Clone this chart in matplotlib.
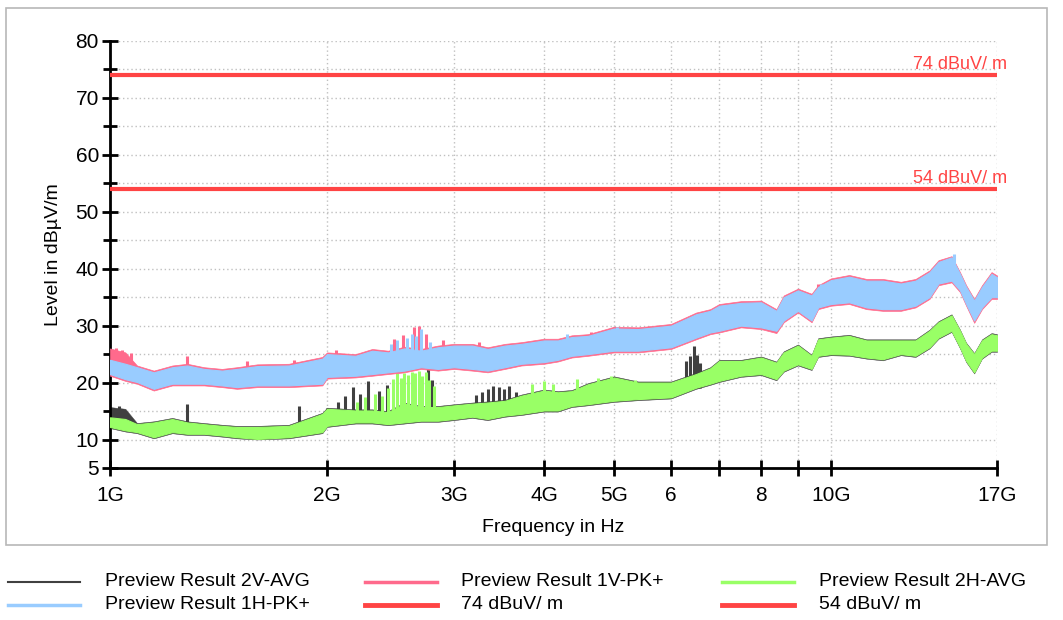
import numpy as np
import matplotlib.pyplot as plt
from matplotlib.patches import Rectangle
from matplotlib.lines import Line2D

plt.rcParams['font.family'] = ['Liberation Sans', 'DejaVu Sans']

freq = [1.0, 1.05, 1.09, 1.15, 1.22, 1.28, 1.35, 1.43, 1.5, 1.6, 1.77, 1.97,
        2.0, 2.19, 2.31, 2.43, 2.56, 2.7, 2.85, 3.0, 3.18, 3.34, 3.53, 3.72,
        4.0, 4.18, 4.37, 4.6, 5.0, 5.4, 6.0, 6.5, 6.8, 7.0, 7.5, 8.0, 8.4, 8.6,
        9.0, 9.4, 9.6, 10.0, 10.6, 11.2, 11.8, 12.5, 13.1, 13.7, 14.1, 14.7,
        15.1, 15.4, 15.8, 16.2, 16.7, 17.0]

# Preview Result 1H-PK+ (blue)
h_pk_lo = [21.5, 20.6, 20.1, 18.9, 19.8, 19.8, 19.8, 19.5, 19.2, 19.5, 19.5, 19.8,
           21.0, 21.2, 21.5, 21.8, 22.1, 22.7, 22.4, 22.7, 22.4, 22.1, 22.7, 23.3,
           23.6, 24.0, 24.7, 25.0, 25.6, 25.6, 26.2, 27.9, 28.8, 29.1, 30.0, 29.7, 29.1, 30.9,
           32.6, 30.9, 33.2, 33.8, 34.1, 33.2, 32.9, 32.9, 33.5, 35.0, 37.4, 37.9,
           36.2, 33.8, 30.9, 33.2, 35.0, 35.0]
h_pk_hi = [24.0, 23.3, 22.7, 21.8, 22.7, 23.0, 22.4, 22.1, 22.4, 22.9, 23.0, 24.2,
           25.0, 24.7, 25.6, 25.3, 26.0, 25.6, 26.2, 26.5, 26.5, 25.9, 26.5, 26.8,
           27.4, 27.4, 28.0, 28.2, 29.5, 29.4, 30.0, 32.0, 32.6, 33.5, 34.0, 34.1, 32.6, 35.0,
           36.2, 35.3, 36.8, 38.0, 38.6, 37.9, 37.9, 37.4, 37.9, 39.4, 41.2, 42.0,
           39.1, 36.8, 34.4, 36.8, 39.1, 38.5]

# Preview Result 1V-PK+ (pink)
v_pk_lo = [21.2, 20.3, 19.8, 18.6, 19.5, 19.5, 19.5, 19.2, 18.9, 19.2, 19.2, 19.5,
           20.7, 20.9, 21.2, 21.5, 21.8, 22.4, 22.1, 22.4, 22.1, 21.8, 22.4, 23.0,
           23.3, 23.7, 24.4, 24.7, 25.3, 25.3, 25.9, 27.6, 28.5, 28.8, 29.7, 29.4, 28.7, 30.6,
           32.3, 30.6, 32.9, 33.5, 33.8, 32.9, 32.6, 32.6, 33.2, 34.7, 37.1, 37.6,
           35.9, 33.5, 30.5, 32.9, 34.7, 34.7]
v_pk_hi = [26.0, 25.3, 23.0, 22.1, 23.0, 23.3, 22.7, 22.4, 22.7, 23.2, 23.3, 24.5,
           25.3, 25.0, 25.9, 25.6, 26.3, 25.9, 26.5, 26.8, 26.8, 26.2, 26.8, 27.1,
           27.7, 27.7, 28.3, 28.5, 29.8, 29.7, 30.3, 32.3, 32.9, 33.8, 34.3, 34.4, 32.9, 35.3,
           36.5, 35.6, 37.1, 38.3, 38.9, 38.2, 38.2, 37.7, 38.2, 39.7, 41.5, 42.2,
           39.4, 37.1, 34.7, 37.1, 39.4, 38.8]

# Preview Result 2H-AVG (green)
h_avg_lo = [12.2, 11.6, 11.3, 10.4, 11.3, 11.0, 11.0, 10.7, 10.4, 10.1, 10.4, 11.3,
            12.4, 13.0, 13.0, 12.7, 13.0, 13.3, 13.3, 13.6, 14.0, 13.6, 14.2, 14.5,
            15.1, 15.1, 15.9, 16.2, 16.8, 17.1, 17.4, 19.1, 19.8, 20.3, 21.2, 21.5, 20.6, 22.1,
            23.2, 22.4, 24.7, 25.0, 24.9, 24.4, 24.1, 25.0, 24.7, 26.2, 27.9, 29.1,
            26.2, 23.8, 21.8, 24.4, 25.6, 25.6]
h_avg_hi = [13.9, 13.6, 12.7, 13.0, 13.6, 13.0, 12.7, 12.4, 12.2, 12.2, 12.4, 14.5,
            15.4, 15.1, 15.1, 14.8, 16.3, 15.7, 15.7, 16.0, 16.3, 16.5, 16.8, 17.7,
            18.6, 18.3, 18.5, 19.7, 20.9, 20.0, 20.0, 21.5, 22.5, 23.8, 23.8, 24.4, 23.5, 25.3,
            26.5, 24.7, 27.6, 27.9, 28.2, 27.4, 27.4, 27.4, 27.4, 29.1, 30.6, 31.8,
            29.1, 26.8, 25.0, 27.4, 28.5, 28.3]

# Preview Result 2V-AVG (dark grey)
v_avg_lo = [12.0, 11.4, 11.1, 10.2, 11.1, 10.8, 10.8, 10.5, 10.2, 10.0, 10.2, 11.1,
            12.2, 12.8, 12.8, 12.5, 12.8, 13.1, 13.1, 13.4, 13.8, 13.4, 14.0, 14.3,
            14.9, 14.9, 15.7, 16.0, 16.6, 16.9, 17.2, 18.9, 19.6, 20.1, 21.0, 21.3, 20.4, 21.9,
            23.0, 22.2, 24.5, 24.8, 24.7, 24.2, 23.9, 24.8, 24.5, 26.0, 27.7, 28.9,
            26.0, 23.6, 21.6, 24.2, 25.4, 25.4]
v_avg_hi = [15.7, 15.4, 12.9, 13.2, 13.8, 13.2, 12.9, 12.6, 12.4, 12.4, 12.6, 14.7,
            15.6, 15.3, 15.3, 15.0, 16.5, 15.9, 15.9, 16.2, 16.5, 16.7, 17.0, 17.9,
            18.8, 18.5, 18.7, 19.9, 21.1, 20.2, 20.2, 21.7, 22.7, 24.0, 24.0, 24.6, 23.7, 25.5,
            26.7, 24.9, 27.8, 28.1, 28.4, 27.6, 27.6, 27.6, 27.6, 29.3, 30.8, 32.0,
            29.3, 27.0, 25.2, 27.6, 28.7, 28.5]

# narrow spikes sticking out of the bands (freq GHz, base dB, top dB)
pink_spk_f = [1.02, 1.04, 1.07, 1.28, 1.55, 1.8, 2.06, 2.48, 2.55, 2.64, 2.68, 2.74, 2.9, 3.25, 4.65, 5.0, 7.6, 9.6, 14.5]
pink_spk_b = [23, 23, 22, 21, 21, 21, 23, 23, 23, 23, 23, 23, 24, 24, 26, 27, 32, 35, 39]
pink_spk_t = [26.0, 25.8, 25.2, 24.7, 23.8, 24.0, 25.8, 27.6, 28.4, 29.8, 30.0, 28.6, 27.4, 27.2, 28.8, 29.8, 34.2, 37.4, 41.4]
blue_spk_f = [2.45, 2.5, 2.58, 2.62, 2.66, 2.7, 2.78, 4.3, 5.05, 9.7, 14.8]
blue_spk_b = [23, 23, 23, 23, 23, 23, 23, 26, 27, 35, 39]
blue_spk_t = [26.8, 27.4, 27.8, 28.6, 28.2, 29.4, 27.2, 28.6, 29.8, 37.4, 42.6]
green_spk_f = [2.2, 2.26, 2.33, 2.38, 2.43, 2.47, 2.5, 2.53, 2.56, 2.59, 2.62, 2.65, 2.68, 2.71, 2.74, 2.77, 2.81,
               3.85, 4.0, 4.12, 4.45, 4.75, 4.95, 5.35]
green_spk_b = [14, 14, 14, 14, 14, 14, 14, 14, 14, 14, 14, 14, 14, 14, 14, 14, 14,
               17, 17, 17, 18, 18, 19, 19]
green_spk_t = [16.6, 17.4, 18.0, 17.6, 19.0, 20.6, 21.6, 20.8, 21.6, 21.4, 21.8, 21.6, 22.0, 21.2, 21.8, 20.4, 19.4,
               19.8, 20.2, 19.8, 20.6, 20.8, 21.2, 20.4]
dark_spk_f = [1.03, 1.28, 1.83, 2.0, 2.07, 2.12, 2.17, 2.22, 2.28, 2.36, 2.42, 2.76, 2.8,
              3.22, 3.28, 3.34, 3.4, 3.46, 3.52, 3.58, 3.66, 6.3, 6.38, 6.45, 6.52, 6.58]
dark_spk_b = [13, 12, 12, 14, 14, 14, 14, 14, 14, 14, 14, 15, 15,
              15, 15, 15, 15, 15, 15, 15, 15, 19, 19, 19, 19, 19]
dark_spk_t = [15.8, 16.2, 15.8, 15.6, 16.6, 17.6, 19.2, 18.0, 20.2, 18.6, 19.6, 22.4, 20.4,
              17.8, 18.4, 18.8, 19.4, 19.2, 18.8, 19.4, 18.4, 23.8, 24.6, 26.4, 24.8, 23.4]

limits = [74, 54]
limit_labels = ['74 dBuV/ m', '54 dBuV/ m']

c_dark = '#404040'
c_pink = '#ff6a8c'
c_green = '#99ff66'
c_blue = '#99ccff'
c_red = '#ff4444'

fig = plt.figure(figsize=(10.63, 6.2), dpi=100)
fig.patches.append(Rectangle((0.006, 0.121), 0.979, 0.866, transform=fig.transFigure,
                             fill=False, edgecolor='#b8b8b8', linewidth=1.2))
ax = fig.add_axes([0.1035, 0.2452, 0.8345, 0.6887])

# bands
ax.fill_between(freq, v_avg_lo, v_avg_hi, color=c_dark, linewidth=0.3, zorder=2)
ax.vlines(dark_spk_f, dark_spk_b, dark_spk_t, color=c_dark, linewidth=2.2, zorder=2)
ax.fill_between(freq, h_avg_lo, h_avg_hi, color=c_green, linewidth=0.8, zorder=3)
ax.vlines(green_spk_f, green_spk_b, green_spk_t, color=c_green, linewidth=2.2, zorder=3)
ax.fill_between(freq, v_pk_lo, v_pk_hi, color=c_pink, linewidth=0.5, zorder=4)
ax.vlines(pink_spk_f, pink_spk_b, pink_spk_t, color=c_pink, linewidth=2.2, zorder=4)
ax.fill_between(freq, h_pk_lo, h_pk_hi, color=c_blue, linewidth=0.8, zorder=5)
ax.vlines(blue_spk_f, blue_spk_b, blue_spk_t, color=c_blue, linewidth=2.2, zorder=5)

for lim, lab in zip(limits, limit_labels):
    ax.axhline(lim, color=c_red, linewidth=3, zorder=6)
    ax.text(1.011, lim + 0.3, lab, transform=ax.get_yaxis_transform(), ha='right', va='bottom',
            color=c_red, fontsize=13, zorder=7)

ax.set_xscale('log')
ax.set_xlim(1, 17)
ax.set_ylim(5, 80)

xt = [1, 2, 3, 4, 5, 6, 7, 8, 9, 10, 17]
xtl = ['1G', '2G', '3G', '4G', '5G', '6', '', '8', '', '10G', '17G']
ax.set_xticks(xt)
ax.set_xticklabels(xtl)
ax.xaxis.set_minor_locator(plt.NullLocator())
ax.set_yticks([5, 10, 20, 30, 40, 50, 60, 70, 80])
ax.set_yticks([15, 25, 35, 45, 55, 65, 75], minor=True)

ax.grid(True, which='both', color='#c0c0c0', linestyle=(0, (1, 2)), linewidth=1)
ax.set_axisbelow(True)
for s in ['top', 'right']:
    ax.spines[s].set_visible(False)
for s in ['left', 'bottom']:
    ax.spines[s].set_linewidth(2)
ax.tick_params(which='both', direction='inout', length=12, width=2, labelsize=15, colors='black')
ax.tick_params(axis='x', pad=7)
ax.tick_params(axis='y', pad=2)
ax.tick_params(which='minor', length=10)

ax.set_xlabel('Frequency in Hz', fontsize=14, labelpad=10)
ax.set_ylabel('Level in dBµV/m', fontsize=14, labelpad=10)

# legend below the chart, two rows of three entries
leg_handles = [(c_dark, 1.5), (c_pink, 2.5), (c_green, 2.5),
               (c_blue, 2.5), (c_red, 3.5), (c_red, 3.5)]
leg_labels = ['Preview Result 2V-AVG', 'Preview Result 1V-PK+', 'Preview Result 2H-AVG',
              'Preview Result 1H-PK+', '74 dBuV/ m', '54 dBuV/ m']
col_x = [0.0075, 0.343, 0.679]
row_y = [0.0613, 0.0242]
for i, ((col, lw), lab) in enumerate(zip(leg_handles, leg_labels)):
    x0 = col_x[i % 3]
    y0 = row_y[i // 3]
    fig.add_artist(Line2D([x0, x0 + 0.068], [y0, y0], color=col, lw=lw, transform=fig.transFigure))
    fig.text(x0 + 0.091, y0, lab, fontsize=14, va='center', ha='left')

fig.savefig('out.png', dpi=100)
